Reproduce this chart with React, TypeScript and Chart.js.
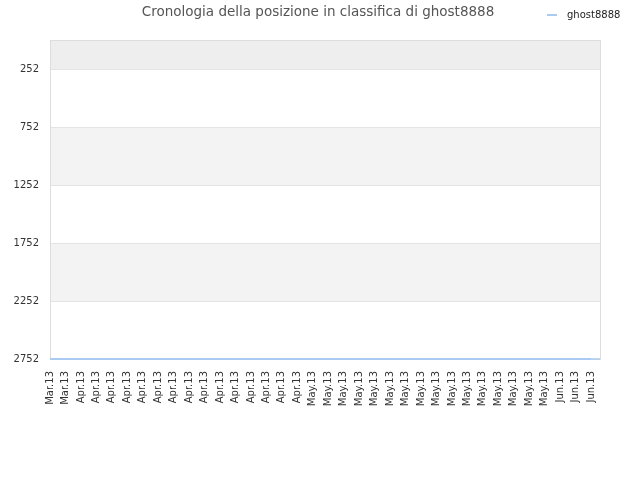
import { useEffect, useRef } from 'react';
import { Chart, registerables } from 'chart.js';

Chart.register(...registerables);

const seriesName = 'ghost8888';
const titleText = 'Cronologia della posizione in classifica di ghost8888';

const xLabels = [
  'Mar.13', 'Mar.13',
  'Apr.13', 'Apr.13', 'Apr.13', 'Apr.13', 'Apr.13', 'Apr.13', 'Apr.13', 'Apr.13',
  'Apr.13', 'Apr.13', 'Apr.13', 'Apr.13', 'Apr.13', 'Apr.13', 'Apr.13',
  'May.13', 'May.13', 'May.13', 'May.13', 'May.13', 'May.13', 'May.13', 'May.13',
  'May.13', 'May.13', 'May.13', 'May.13', 'May.13', 'May.13', 'May.13', 'May.13',
  'Jun.13', 'Jun.13', 'Jun.13',
];

const rankValues = [
  2752, 2752, 2752, 2752, 2752, 2752, 2752, 2752, 2752, 2752, 2752, 2752,
  2752, 2752, 2752, 2752, 2752, 2752, 2752, 2752, 2752, 2752, 2752, 2752,
  2752, 2752, 2752, 2752, 2752, 2752, 2752, 2752, 2752, 2752, 2752, 2752,
];

const yTicks = [252, 752, 1252, 1752, 2252, 2752];
const yMin = 2;
const yMax = 2752;
const bandEdges = [2, 252, 752, 1252, 1752, 2252, 2752];
const bandColors = ['#eeeeee', '#ffffff', '#f3f3f3', '#ffffff', '#f3f3f3', '#ffffff'];

const FONT = "'DejaVu Sans', sans-serif";
const LINE_COLOR = '#a9cbf1';

// plot bands, frame, title and legend
const decorPlugin = {
  id: 'decor',
  beforeDatasetsDraw(chart: any) {
    const { ctx, chartArea } = chart;
    const y = chart.scales.y;
    ctx.save();
    for (let i = 0; i < bandColors.length; i++) {
      const a = y.getPixelForValue(bandEdges[i]);
      const b = y.getPixelForValue(bandEdges[i + 1]);
      ctx.fillStyle = bandColors[i];
      ctx.fillRect(chartArea.left, Math.min(a, b), chartArea.right - chartArea.left, Math.abs(b - a));
    }
    ctx.strokeStyle = '#e4e4e4';
    ctx.lineWidth = 1;
    for (const t of yTicks) {
      const py = Math.round(y.getPixelForValue(t)) + 0.5;
      ctx.beginPath();
      ctx.moveTo(chartArea.left, py);
      ctx.lineTo(chartArea.right, py);
      ctx.stroke();
    }
    ctx.strokeStyle = '#dddddd';
    ctx.strokeRect(chartArea.left + 0.5, chartArea.top + 0.5, chartArea.right - chartArea.left, chartArea.bottom - chartArea.top);
    // axis line along the bottom
    ctx.strokeStyle = LINE_COLOR;
    ctx.lineWidth = 1.5;
    ctx.beginPath();
    ctx.moveTo(chartArea.left, chartArea.bottom);
    ctx.lineTo(chartArea.right, chartArea.bottom);
    ctx.stroke();
    ctx.restore();
  },
  afterDraw(chart: any) {
    const { ctx } = chart;
    ctx.save();
    ctx.font = `13.5px ${FONT}`;
    ctx.fillStyle = '#555555';
    ctx.textAlign = 'center';
    ctx.textBaseline = 'middle';
    ctx.fillText(titleText, 318, 12);
    ctx.strokeStyle = LINE_COLOR;
    ctx.lineWidth = 2;
    ctx.beginPath();
    ctx.moveTo(547, 15);
    ctx.lineTo(557, 15);
    ctx.stroke();
    ctx.font = `10px ${FONT}`;
    ctx.fillStyle = '#222222';
    ctx.textAlign = 'left';
    ctx.fillText(seriesName, 567, 15);
    ctx.restore();
  },
};

function RankChart() {
  const canvasRef = useRef<HTMLCanvasElement>(null);

  useEffect(() => {
    const canvas = canvasRef.current;
    if (!canvas) return;
    const chart = new Chart(canvas, {
      type: 'line',
      data: {
        datasets: [{
          label: seriesName,
          data: rankValues.map((v, i) => ({ x: i, y: v })),
          borderColor: LINE_COLOR,
          backgroundColor: LINE_COLOR,
          borderWidth: 2,
          pointRadius: 0,
          tension: 0,
          clip: false,
        }],
      },
      options: {
        animation: false,
        responsive: false,
        maintainAspectRatio: false,
        layout: { padding: { top: 40, right: 40, bottom: 0, left: 0 } },
        plugins: {
          legend: { display: false },
          title: { display: false },
          tooltip: { enabled: false },
        },
        scales: {
          x: {
            type: 'linear',
            min: 0,
            max: 35.58,
            afterBuildTicks: (s: any) => {
              s.ticks = xLabels.map((_, i) => ({ value: i }));
            },
            afterFit: (s: any) => { s.height = 121; },
            grid: { display: false, drawTicks: false },
            border: { display: false },
            ticks: {
              autoSkip: false,
              maxRotation: 90,
              minRotation: 90,
              padding: 12,
              color: '#333333',
              font: { family: FONT, size: 10 },
              callback: (v: any) => xLabels[v] ?? '',
            },
          },
          y: {
            reverse: true,
            min: yMin,
            max: yMax,
            afterBuildTicks: (s: any) => {
              s.ticks = yTicks.map((v) => ({ value: v }));
            },
            afterFit: (s: any) => { s.width = 50; },
            grid: { display: false, drawTicks: false },
            border: { display: false },
            ticks: {
              padding: 11,
              color: '#333333',
              font: { family: FONT, size: 10 },
              callback: (v: any) => String(v),
            },
          },
        },
      },
      plugins: [decorPlugin],
    });
    return () => {
      chart.destroy();
    };
  }, []);

  return <canvas ref={canvasRef} width={640} height={480} />;
}

export default function App() {
  return (
    <div style={{ position: 'absolute', left: 0, top: 0, width: 640, height: 480, background: '#ffffff' }}>
      <RankChart />
    </div>
  );
}
